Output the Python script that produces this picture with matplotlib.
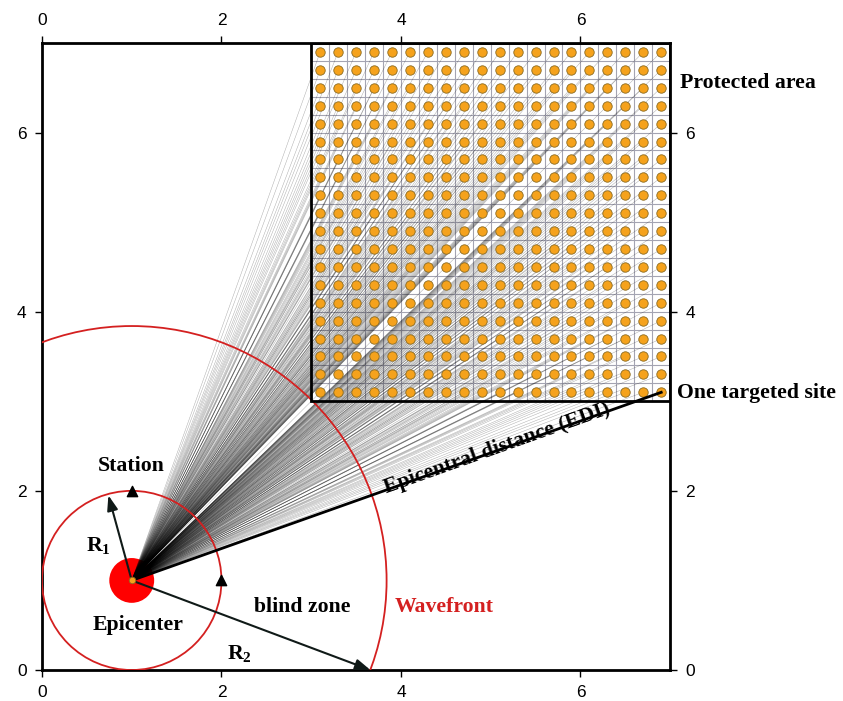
import numpy as np
import matplotlib
matplotlib.use("Agg")
import matplotlib.pyplot as plt
from math import gcd
from matplotlib.patches import Circle, Rectangle

# Scene description (map units)
epicenter = (1.0, 1.0)
stations_x = [1.0, 2.0]
stations_y = [2.0, 1.0]
r1_radius = 1.0
r2_radius = 2.84
site_cols = [3.1, 3.3, 3.5, 3.7, 3.9, 4.1, 4.3, 4.5, 4.7, 4.9,
             5.1, 5.3, 5.5, 5.7, 5.9, 6.1, 6.3, 6.5, 6.7, 6.9]
site_rows = [3.1, 3.3, 3.5, 3.7, 3.9, 4.1, 4.3, 4.5, 4.7, 4.9,
             5.1, 5.3, 5.5, 5.7, 5.9, 6.1, 6.3, 6.5, 6.7, 6.9]
cell_edges = [3.0, 3.2, 3.4, 3.6, 3.8, 4.0, 4.2, 4.4, 4.6, 4.8, 5.0,
              5.2, 5.4, 5.6, 5.8, 6.0, 6.2, 6.4, 6.6, 6.8, 7.0]
target_site = (6.9, 3.1)
r1_tip = (0.74, 1.95)
r2_tip = (3.66, 0.0)
ticks = [0, 2, 4, 6]

serif = ["Liberation Serif", "DejaVu Serif"]
plt.rcParams["font.family"] = ["Liberation Sans", "DejaVu Sans"]

fig = plt.figure(figsize=(8.43, 7.01), dpi=100)
ax = fig.add_axes([0.0498, 0.0442, 0.7452, 0.8945])
ax.set_xlim(0, 7)
ax.set_ylim(0, 7)

# Protected-area cell grid
for e in cell_edges:
    ax.plot([e, e], [3, 7], color="#a4a4b2", lw=0.8, zorder=1)
    ax.plot([3, 7], [e, e], color="#a4a4b2", lw=0.8, zorder=1)

# Rays from the epicenter to every site; collinear sites share one ray
sx, sy = np.meshgrid(site_cols, site_rows)
rays = {}
for x, y in zip(sx.ravel(), sy.ravel()):
    dx = int(round((x - epicenter[0]) * 10))
    dy = int(round((y - epicenter[1]) * 10))
    g = gcd(dx, dy)
    key = (dx // g, dy // g)
    if key not in rays or dx * dx + dy * dy > rays[key][2]:
        rays[key] = (x, y, dx * dx + dy * dy)
for x, y, _ in rays.values():
    ax.plot([epicenter[0], x], [epicenter[1], y], color="black",
            lw=0.35, alpha=0.32, zorder=2, solid_capstyle="butt")

ax.add_patch(Rectangle((3, 3), 4, 4, fill=False, ec="black", lw=2.0, zorder=4))

# Sites
ax.scatter(sx.ravel(), sy.ravel(), s=46, c="#f5a21c", edgecolors="#8a6a20",
           linewidths=0.6, zorder=5)

# Circles: R1 (blind zone) and wavefront, epicenter disk
ax.add_patch(Circle(epicenter, r1_radius, fill=False, ec="#d42020", lw=1.3, zorder=3))
ax.add_patch(Circle(epicenter, r2_radius, fill=False, ec="#d42020", lw=1.3, zorder=3))
ax.add_patch(Circle(epicenter, 0.25, fc="#ff0000", ec="none", zorder=1.5))

# Epicentral distance to the targeted site
ax.plot([epicenter[0], target_site[0]], [epicenter[1], target_site[1]],
        color="black", lw=2.0, zorder=6)

ax.scatter([epicenter[0]], [epicenter[1]], s=22, c="#f5a21c", edgecolors="#8a6a20",
           linewidths=0.6, zorder=8)

# Stations
ax.scatter(stations_x, stations_y, marker="^", s=55, c="black", zorder=7,
           clip_on=False)

# Radius arrows
arrow = dict(arrowstyle="-|>,head_length=0.9,head_width=0.32", color="#101a18",
             lw=1.5, shrinkA=0, shrinkB=0)
ax.annotate("", xy=r1_tip, xytext=epicenter, arrowprops=arrow, zorder=7)
ax.annotate("", xy=r2_tip, xytext=epicenter, arrowprops=arrow, zorder=7,
            annotation_clip=False)

bold = dict(family=serif, fontweight="bold", fontsize=15.7)
ax.text(1.0, 2.28, "Station", ha="center", va="center", **bold)
ax.text(0.63, 1.38, r"R$_\mathregular{1}$", ha="center", va="center", **bold)
ax.text(1.07, 0.5, "Epicenter", ha="center", va="center", **bold)
ax.text(2.9, 0.7, "blind zone", ha="center", va="center", **bold)
ax.text(2.2, 0.18, r"R$_\mathregular{2}$", ha="center", va="center", **bold)
ax.text(4.48, 0.7, "Wavefront", ha="center", va="center", color="#d42020", **bold)
ang = np.degrees(np.arctan2(target_site[1] - epicenter[1], target_site[0] - epicenter[0]))
ax.text(5.07, 2.47, "Epicentral distance (EDI)", ha="center", va="center",
        rotation=ang, rotation_mode="anchor", **bold)
ax.text(7.11, 6.55, "Protected area", ha="left", va="center", clip_on=False, **bold)
ax.text(7.08, 3.09, "One targeted site", ha="left", va="center", clip_on=False, **bold)

# Axes frame and ticks on all four sides
for s in ax.spines.values():
    s.set_linewidth(2.0)
ax.set_xticks(ticks)
ax.set_yticks(ticks)
ax.tick_params(direction="out", length=5, width=1, labelsize=12.5, pad=6,
               top=True, right=True, labeltop=True, labelright=True)

fig.savefig("out.png", dpi=100)
